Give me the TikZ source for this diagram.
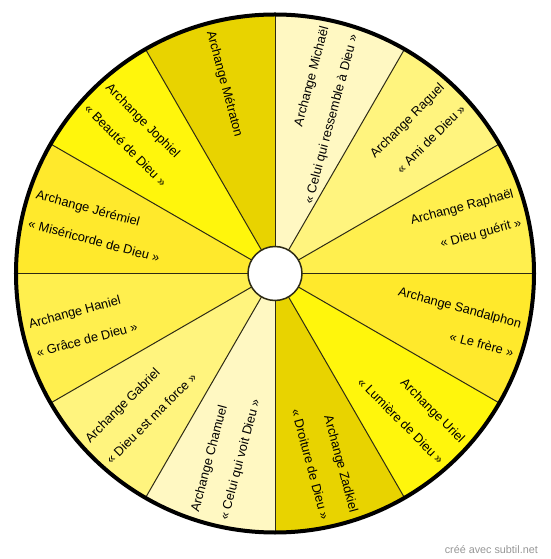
\documentclass[tikz,border=0pt]{standalone}
\usepackage{fontspec}
\setmainfont{Liberation Sans}
\definecolor{wpale}{HTML}{FFF8C2}
\definecolor{wlight}{HTML}{FFF47E}
\definecolor{wmid}{HTML}{FFEF4E}
\definecolor{wdeep}{HTML}{FFE92C}
\definecolor{wlemon}{HTML}{FFF60C}
\definecolor{wolive}{HTML}{E8D300}
\definecolor{spoke}{RGB}{45,42,20}
\definecolor{credit}{RGB}{150,150,150}
\usetikzlibrary{calc}

\begin{document}
\begin{tikzpicture}[x=1pt,y=1pt,
    angeltext/.style={font=\fontsize{12.8}{30}\selectfont,inner sep=0pt,text=black}]
  \useasboundingbox (-275,-285.5) rectangle (275,273.5);
  % wedges
  \foreach \a/\c in {15/wmid,45/wlight,75/wpale,105/wolive,135/wlemon,165/wdeep,
                     195/wmid,225/wlight,255/wpale,285/wolive,315/wlemon,345/wdeep}
    \fill[\c] (0,0) -- (\a-15:259) arc[start angle=\a-15,end angle=\a+15,radius=259] -- cycle;
  \foreach \a in {0,30,...,330}
    \draw[spoke,line width=1pt] (\a:27) -- (\a:259);
  \draw[spoke,line width=1.5pt,fill=white] (0,0) circle[radius=27];
  \draw[line width=4pt] (0,0) circle[radius=259];
  % right half: lines end at the rim
  \foreach \nm/\a/\top/\bot in {raphael/15/Archange Raphaël/« Dieu guérit »,
      raguel/45/Archange Raguel/« Ami de Dieu »,
      michael/75/Archange Michaël/« Celui qui ressemble à Dieu »,
      zadkiel/285/Archange Zadkiel/« Droiture de Dieu »,
      uriel/315/Archange Uriel/« Lumière de Dieu »,
      sandalphon/345/Archange Sandalphon/« Le frère »}
    \node[angeltext,rotate=\a,anchor=east,align=right] (\nm) at (\a:251) {\top\\\bot};
  % left half: lines start at the rim
  \foreach \nm/\a/\top/\bot in {jophiel/135/Archange Jophiel/« Beauté de Dieu »,
      jeremiel/165/Archange Jérémiel/« Miséricorde de Dieu »,
      haniel/195/Archange Haniel/« Grâce de Dieu »,
      gabriel/225/Archange Gabriel/« Dieu est ma force »,
      chamuel/255/Archange Chamuel/« Celui qui voit Dieu »}
    \node[angeltext,rotate=\a+180,anchor=west,align=left] (\nm) at (\a:251) {\top\\\bot};
  \node[angeltext,rotate=285,anchor=west] (metraton) at (105:251) {Archange Métraton};
  \node[anchor=base east,inner sep=0pt,font=\fontsize{10.8}{13}\selectfont,text=credit]
    (credit) at (263,-279.5) {créé avec subtil.net};
\end{tikzpicture}
\end{document}
